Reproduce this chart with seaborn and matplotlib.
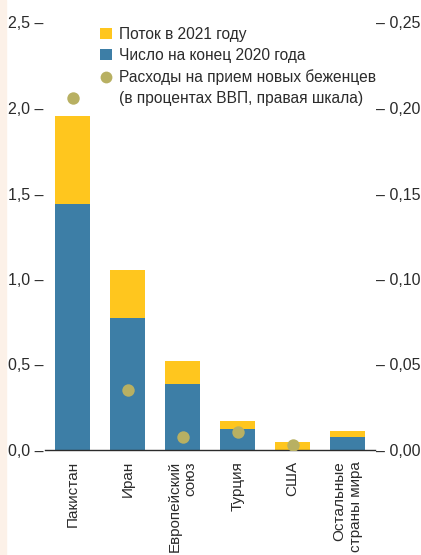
import matplotlib
matplotlib.use("Agg")
import matplotlib.pyplot as plt
from matplotlib.patches import Patch, Rectangle
from matplotlib.lines import Line2D
from matplotlib.ticker import FixedLocator, FuncFormatter
import numpy as np
import seaborn as sns

# данные
categories = ["Пакистан", "Иран", "Европейский\nсоюз", "Турция", "США", "Остальные\nстраны мира"]
stock_2020 = [1.44, 0.77, 0.385, 0.12, 0.0, 0.075]
flow_2021 = [0.515, 0.285, 0.135, 0.05, 0.047, 0.035]
cost_pct_gdp = [0.206, 0.035, 0.0075, 0.0105, 0.003, np.nan]

left_ticks = [0.0, 0.5, 1.0, 1.5, 2.0, 2.5]
right_ticks = [0.0, 0.05, 0.10, 0.15, 0.20, 0.25]

YELLOW = "#ffc61e"
BLUE = "#3d7ea6"
OLIVE = "#b8b062"
INK = "#2b2b2b"

sns.set_style("white")
plt.rcParams["font.family"] = ["Liberation Sans Narrow", "Liberation Sans", "DejaVu Sans"]

total = [s + f for s, f in zip(stock_2020, flow_2021)]
pos = np.arange(len(categories))

fig = plt.figure(figsize=(4.21, 5.55), dpi=100)
fig.patches.append(Rectangle((0, 0), 6 / 421, 1, transform=fig.transFigure,
                             color="#fcf1e8", zorder=0))
ax = fig.add_axes([45 / 421, 105 / 555, 330 / 421, 427.5 / 555])

# столбцы: сначала сумма (жёлтый), поверх — запас на конец 2020 (синий)
sns.barplot(x=pos, y=total, color=YELLOW, width=0.64, saturation=1,
            native_scale=True, ax=ax)
sns.barplot(x=pos, y=stock_2020, color=BLUE, width=0.64, saturation=1,
            native_scale=True, ax=ax)
for p in ax.patches:
    p.set_linewidth(0)

ax.set_xlim(-0.5, len(categories) - 0.5)
ax.set_ylim(0, 2.5)
ax.set_xticks(pos)
ax.set_xticklabels(categories, rotation=90, fontsize=11, color=INK,
                   multialignment="right")
ax.xaxis.set_minor_locator(FixedLocator(np.arange(-0.5, len(categories), 1.0)))
ax.tick_params(axis="x", which="major", length=0, pad=8)
ax.tick_params(axis="x", which="minor", direction="in", length=4.5, width=1, color="#555555")
ax.set_yticks(left_ticks)
ax.yaxis.set_major_formatter(FuncFormatter(lambda v, _: f"{v:.1f}".replace(".", ",") + " –"))
ax.tick_params(axis="y", length=0, pad=1, labelsize=11.5, labelcolor=INK)
for s in ["top", "right", "left"]:
    ax.spines[s].set_visible(False)
ax.spines["bottom"].set_color(INK)
ax.spines["bottom"].set_linewidth(1)
ax.set_xlabel("")
ax.set_ylabel("")

# правая шкала: расходы в % ВВП
ax2 = ax.twinx()
sns.scatterplot(x=pos, y=cost_pct_gdp, color=OLIVE, s=80, linewidth=0, ax=ax2, zorder=5)
ax2.set_ylim(0, 0.25)
ax2.set_yticks(right_ticks)
ax2.yaxis.set_major_formatter(FuncFormatter(lambda v, _: "– " + f"{v:.2f}".replace(".", ",")))
ax2.tick_params(axis="y", length=0, pad=1, labelsize=11.5, labelcolor=INK)
for s in ["top", "right", "left", "bottom"]:
    ax2.spines[s].set_visible(False)
ax2.set_ylabel("")

handles = [
    Patch(facecolor=YELLOW, edgecolor="none"),
    Patch(facecolor=BLUE, edgecolor="none"),
    Line2D([], [], marker="o", linestyle="none", markersize=8.5,
           markerfacecolor=OLIVE, markeredgewidth=0),
    Patch(facecolor="none", edgecolor="none"),
]
labels = [
    "Поток в 2021 году",
    "Число на конец 2020 года",
    "Расходы на прием новых беженцев",
    "(в процентах ВВП, правая шкала)",
]
leg = ax2.legend(handles, labels, loc="upper left", bbox_to_anchor=(100 / 421, 1 - 27 / 555),
                 bbox_transform=fig.transFigure, frameon=False, fontsize=11.2,
                 handlelength=0.75, handleheight=0.75, handletextpad=0.5,
                 labelspacing=0.4, borderpad=0, borderaxespad=0)
for t in leg.get_texts():
    t.set_color(INK)

fig.savefig("out.png", dpi=100)
